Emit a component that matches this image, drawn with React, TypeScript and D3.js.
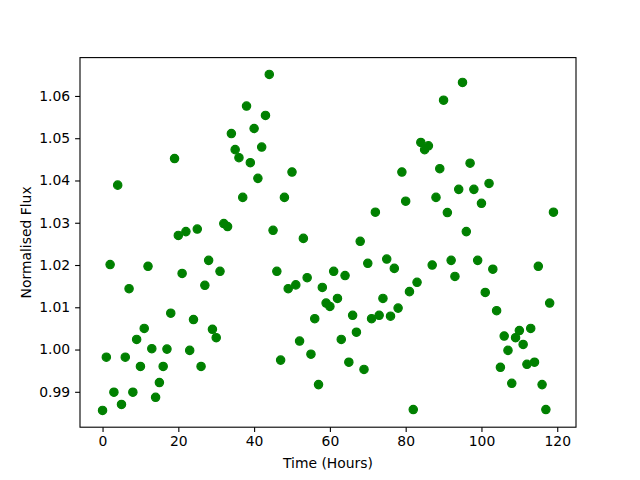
import React, { useRef, useEffect } from 'react';
import * as d3 from 'd3';

// hours of observation, one reading per hour
const hours: number[] = d3.range(0, 120);

// normalised flux, one per hour
const flux: number[] = [
  0.9856, 0.9982, 1.0201, 0.9899, 1.0389, 0.9870, 0.9982, 1.0144, 0.9899, 1.0024,
  0.9960, 1.0050, 1.0197, 1.0002, 0.9887, 0.9922, 0.9960, 1.0001, 1.0086, 1.0452,
  1.0270, 1.0180, 1.0279, 0.9998, 1.0071, 1.0285, 0.9960, 1.0152, 1.0211, 1.0048,
  1.0028, 1.0185, 1.0298, 1.0291, 1.0511, 1.0473, 1.0454, 1.0360, 1.0576, 1.0442,
  1.0523, 1.0405, 1.0479, 1.0554, 1.0651, 1.0282, 1.0185, 0.9975, 1.0360, 1.0144,
  1.0420, 1.0153, 1.0020, 1.0263, 1.0170, 0.9989, 1.0073, 0.9917, 1.0147, 1.0110,
  1.0102, 1.0185, 1.0121, 1.0024, 1.0175, 0.9970, 1.0081, 1.0041, 1.0256, 0.9953,
  1.0204, 1.0073, 1.0325, 1.0081, 1.0121, 1.0214, 1.0079, 1.0192, 1.0098, 1.0420,
  1.0351, 1.0137, 0.9858, 1.0159, 1.0490, 1.0473, 1.0482, 1.0200, 1.0360, 1.0428,
  1.0590, 1.0324, 1.0211, 1.0173, 1.0379, 1.0632, 1.0279, 1.0441, 1.0379, 1.0211,
  1.0346, 1.0135, 1.0393, 1.0190, 1.0092, 0.9958, 1.0032, 0.9998, 0.9920, 1.0028,
  1.0045, 1.0012, 0.9965, 1.0050, 0.9970, 1.0197, 0.9917, 0.9858, 1.0110, 1.0325,
];

const xTicks: number[] = [0, 20, 40, 60, 80, 100, 120];
const yTicks: number[] = [0.99, 1.0, 1.01, 1.02, 1.03, 1.04, 1.05, 1.06];

const FluxChart = () => {
  const chartRef = useRef<HTMLDivElement>(null);

  useEffect(() => {
    d3.select(chartRef.current).selectAll('*').remove();

    const W = 640;
    const H = 480;
    const left = 80, right = 576, top = 57.6, bottom = 427.2;
    const font = 'DejaVu Sans, sans-serif';

    const svg = d3.select(chartRef.current)
      .append('svg')
      .attr('width', W)
      .attr('height', H)
      .style('display', 'block')
      .style('background', '#fff');

    const points = hours.map((h, i) => ({ h, f: flux[i] }));

    // matplotlib style 5% margins
    const [x0, x1] = d3.extent(hours) as [number, number];
    const [y0, y1] = d3.extent(flux) as [number, number];
    const xm = (x1 - x0) * 0.05;
    const ym = (y1 - y0) * 0.05;

    const x = d3.scaleLinear().domain([x0 - xm, x1 + xm]).range([left, right]);
    const y = d3.scaleLinear().domain([y0 - ym, y1 + ym]).range([bottom, top]);

    // points
    svg.append('g')
      .selectAll('circle')
      .data(points)
      .enter().append('circle')
      .attr('cx', d => x(d.h))
      .attr('cy', d => y(d.f))
      .attr('r', 4.17)
      .attr('fill', '#008000')
      .attr('stroke', '#008000')
      .attr('stroke-width', 1.2);

    // x axis
    const xAxis = svg.append('g')
      .attr('transform', `translate(0,${bottom})`)
      .call(d3.axisBottom(x).tickValues(xTicks).tickSize(4.9).tickPadding(4.4).tickFormat(d3.format('d')));
    xAxis.select('.domain').remove();
    xAxis.selectAll('line').attr('stroke', '#000').attr('stroke-width', 1.1);
    xAxis.selectAll('text')
      .attr('font-family', font)
      .attr('font-size', 13.9)
      .attr('fill', '#000');

    // y axis
    const yAxis = svg.append('g')
      .attr('transform', `translate(${left},0)`)
      .call(d3.axisLeft(y).tickValues(yTicks).tickSize(4.9).tickPadding(4.9).tickFormat(d3.format('.2f')));
    yAxis.select('.domain').remove();
    yAxis.selectAll('line').attr('stroke', '#000').attr('stroke-width', 1.1);
    yAxis.selectAll('text')
      .attr('font-family', font)
      .attr('font-size', 13.9)
      .attr('fill', '#000');

    // frame
    svg.append('rect')
      .attr('x', left)
      .attr('y', top)
      .attr('width', right - left)
      .attr('height', bottom - top)
      .attr('fill', 'none')
      .attr('stroke', '#000')
      .attr('stroke-width', 1.1);

    // labels
    svg.append('text')
      .attr('x', (left + right) / 2)
      .attr('y', 468)
      .attr('text-anchor', 'middle')
      .attr('font-family', font)
      .attr('font-size', 13.9)
      .text('Time (Hours)');

    svg.append('text')
      .attr('transform', `translate(31,${(top + bottom) / 2}) rotate(-90)`)
      .attr('text-anchor', 'middle')
      .attr('font-family', font)
      .attr('font-size', 13.9)
      .text('Normalised Flux');
  }, []);

  return <div ref={chartRef} style={{ position: 'absolute', left: 0, top: 0 }} />;
};

export default function App() {
  return <FluxChart />;
}
